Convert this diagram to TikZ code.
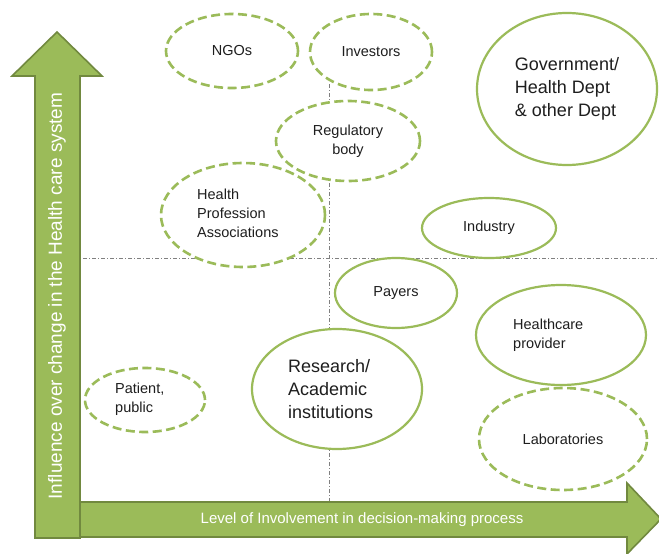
\documentclass[tikz,border=0pt]{standalone}
\usepackage{fontspec}
\setmainfont{Liberation Sans}
\usetikzlibrary{shapes.geometric}
\definecolor{olive}{HTML}{9BBB59}
\definecolor{oliveedge}{HTML}{71893F}
\definecolor{guide}{HTML}{808080}
\definecolor{ink}{HTML}{1E1E1E}
\tikzset{
  axisarrow/.style={fill=olive, draw=oliveedge, line width=1.6pt, line join=miter},
  guideline/.style={draw=guide, line width=0.8pt, dash pattern=on 4pt off 2pt on 1pt off 2pt},
  party/.style={ellipse, draw=olive, fill=white, inner sep=0pt},
  dashparty/.style={party, line width=2.6pt, dash pattern=on 9pt off 4.5pt},
  solidparty/.style={party, line width=2.2pt},
  lbl/.style={text=ink, font=\fontsize{14.5}{19}\selectfont, align=left, inner sep=0pt},
  biglbl/.style={text=ink, font=\fontsize{18}{23}\selectfont, align=left, inner sep=0pt},
  axislbl/.style={text=white, inner sep=0pt}
}
\begin{document}
\begin{tikzpicture}[x=1pt, y=-1pt]
\useasboundingbox (0,0) rectangle (659,554);
\fill[white] (0,0) rectangle (659,554);

% quadrant guides
\coordinate (hL) at (83,258);
\coordinate (hR) at (659,258);
\coordinate (vT) at (329,84);
\coordinate (vB) at (329,501);
\draw[guideline] (hL) -- (hR);
\draw[guideline] (vT) -- (vB);

% axes
\draw[axisarrow] (35,538) -- (35,76) -- (12,76) -- (57,32) -- (102,76) -- (80,76) -- (80,538) -- cycle;
\draw[axisarrow] (80,502) -- (627,502) -- (627,483) -- (661,519) -- (627,554) -- (627,537) -- (80,537) -- cycle;
\node[axislbl, rotate=90, font=\fontsize{19}{22}\selectfont] (yaxis) at (57,296) {Influence over change in the Health care system};
\node[axislbl, font=\fontsize{15}{18}\selectfont] (xaxis) at (362,520) {Level of Involvement in decision-making process};

% stakeholders
\node[dashparty, minimum width=132pt, minimum height=74pt] (ngo) at (232,51) {};
\node[lbl] (ngoT) at (ngo) {NGOs};

\node[dashparty, minimum width=122pt, minimum height=76pt] (inv) at (371,52) {};
\node[lbl] (invT) at (inv) {Investors};

\node[dashparty, minimum width=144pt, minimum height=80pt] (reg) at (348,141) {};
\node[lbl, align=center] (regT) at (reg) {Regulatory\\body};

\node[solidparty, minimum width=180pt, minimum height=152pt] (gov) at (567,89) {};
\node[biglbl] (govT) at (567,89) {Government/\\Health Dept\\\& other Dept};

\node[dashparty, minimum width=164pt, minimum height=104pt] (hpa) at (243,215) {};
\node[lbl, anchor=west] (hpaT) at (197,213) {Health\\Profession\\Associations};

\node[solidparty, minimum width=134pt, minimum height=60pt] (ind) at (489,228) {};
\node[lbl] (indT) at (ind) {Industry};

\node[solidparty, minimum width=122pt, minimum height=70pt] (pay) at (396,293) {};
\node[lbl] (payT) at (pay) {Payers};

\node[solidparty, minimum width=170pt, minimum height=120pt] (res) at (337,389) {};
\node[biglbl, anchor=west] (resT) at (288,389) {Research/\\Academic\\institutions};

\node[solidparty, minimum width=170pt, minimum height=100pt] (hcp) at (561,335) {};
\node[lbl, anchor=west] (hcpT) at (513,335) {Healthcare\\provider};

\node[dashparty, minimum width=168pt, minimum height=102pt] (lab) at (563,439) {};
\node[lbl] (labT) at (lab) {Laboratories};

\node[dashparty, minimum width=120pt, minimum height=64pt] (pat) at (145,400) {};
\node[lbl, anchor=west] (patT) at (115,399) {Patient,\\public};
\end{tikzpicture}
\end{document}
